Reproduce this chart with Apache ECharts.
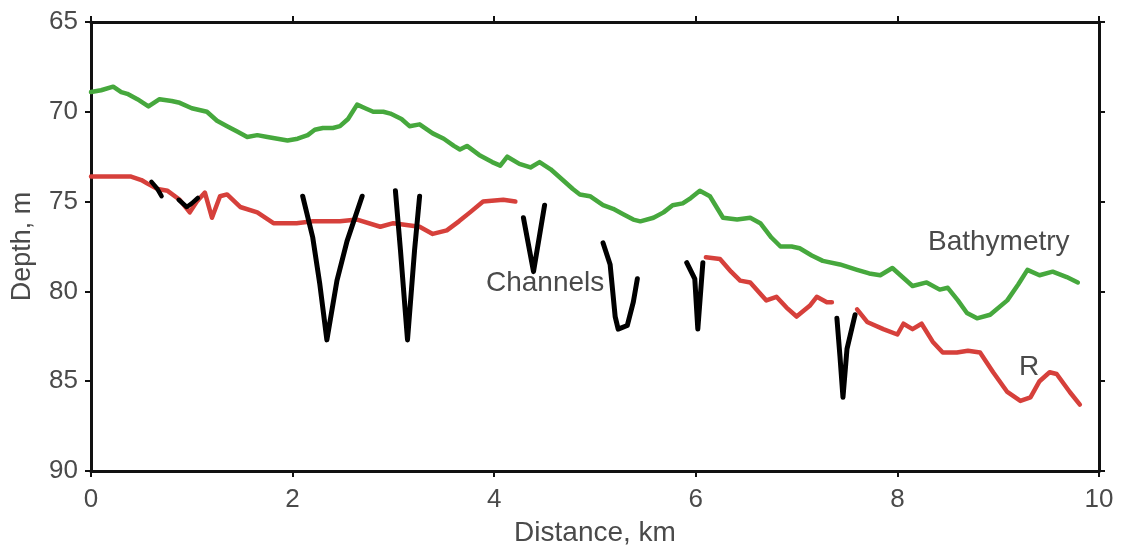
<!DOCTYPE html>
<html>
<head>
<meta charset="utf-8">
<script src="https://cdn.jsdelivr.net/npm/echarts@6/dist/echarts.min.js"></script>
<style>html,body{margin:0;padding:0;background:#fff;}#c{width:1122px;height:546px;}</style>
</head>
<body>
<div id="c"></div>
<script>
// Distance (km), Depth (m)
const xTicks = [0, 2, 4, 6, 8, 10];
const yTicks = [65, 70, 75, 80, 85, 90];

const bathymetry = [[0,68.9],[0.1,68.8],[0.22,68.6],[0.3,68.9],[0.36,69.0],[0.46,69.3],[0.57,69.7],[0.68,69.3],[0.8,69.4],[0.88,69.5],[1.0,69.8],[1.15,70.0],[1.25,70.5],[1.35,70.8],[1.45,71.1],[1.55,71.4],[1.65,71.3],[1.75,71.4],[1.85,71.5],[1.95,71.6],[2.05,71.5],[2.15,71.3],[2.22,71.0],[2.30,70.9],[2.40,70.9],[2.47,70.8],[2.55,70.4],[2.64,69.6],[2.72,69.8],[2.8,70.0],[2.9,70.0],[2.97,70.1],[3.08,70.4],[3.16,70.8],[3.26,70.7],[3.39,71.2],[3.5,71.5],[3.6,71.9],[3.66,72.1],[3.73,71.9],[3.85,72.4],[3.98,72.8],[4.06,73.0],[4.13,72.5],[4.25,72.9],[4.36,73.1],[4.45,72.8],[4.56,73.2],[4.68,73.8],[4.78,74.3],[4.85,74.6],[4.95,74.7],[5.08,75.2],[5.18,75.4],[5.28,75.7],[5.38,76.0],[5.45,76.1],[5.58,75.9],[5.68,75.6],[5.77,75.2],[5.87,75.1],[5.95,74.8],[6.04,74.4],[6.14,74.7],[6.27,75.9],[6.41,76.0],[6.54,75.9],[6.64,76.2],[6.75,77.0],[6.84,77.5],[6.95,77.5],[7.03,77.6],[7.15,78.0],[7.26,78.3],[7.43,78.5],[7.60,78.8],[7.72,79.0],[7.83,79.1],[7.95,78.7],[8.05,79.2],[8.15,79.7],[8.29,79.5],[8.42,79.9],[8.50,79.8],[8.60,80.5],[8.69,81.2],[8.79,81.5],[8.92,81.3],[9.09,80.5],[9.2,79.6],[9.29,78.8],[9.41,79.1],[9.54,78.9],[9.68,79.2],[9.79,79.5]];

const reflectorA = [[0,73.6],[0.2,73.6],[0.39,73.6],[0.5,73.8],[0.56,74.0],[0.66,74.3],[0.76,74.4],[0.88,74.9],[0.98,75.6],[1.05,75.0],[1.13,74.5],[1.20,75.9],[1.28,74.7],[1.35,74.6],[1.48,75.3],[1.65,75.6],[1.81,76.2],[2.04,76.2],[2.20,76.1],[2.47,76.1],[2.64,76.0],[2.87,76.4],[3.0,76.2],[3.26,76.4],[3.39,76.8],[3.53,76.6],[3.65,76.1],[3.76,75.6],[3.89,75.0],[4.09,74.9],[4.21,75.0]];
const reflectorB = [[6.10,78.1],[6.24,78.2],[6.35,78.9],[6.44,79.4],[6.54,79.5],[6.70,80.5],[6.80,80.3],[6.90,80.9],[7.00,81.4],[7.13,80.8],[7.20,80.3],[7.30,80.6],[7.35,80.6]];
const reflectorC = [[7.60,81.0],[7.70,81.7],[7.86,82.1],[8.00,82.4],[8.06,81.8],[8.15,82.1],[8.24,81.8],[8.35,82.8],[8.45,83.4],[8.59,83.4],[8.70,83.3],[8.82,83.4],[8.95,84.5],[9.09,85.6],[9.22,86.1],[9.32,85.9],[9.41,85.0],[9.51,84.5],[9.58,84.6],[9.71,85.6],[9.81,86.3]];

const channelBits1 = [[0.60,73.9],[0.66,74.3],[0.70,74.7]];
const channelBits2 = [[0.87,74.9],[0.95,75.3],[1.0,75.1],[1.06,74.8]];
const channel1 = [[2.10,74.7],[2.20,77.0],[2.27,79.6],[2.34,82.7],[2.44,79.4],[2.54,77.2],[2.69,74.7]];
const channel2 = [[3.02,74.4],[3.07,77.7],[3.14,82.7],[3.21,77.7],[3.26,74.7]];
const channel3 = [[4.29,75.9],[4.39,78.9],[4.50,75.2]];
const channel4 = [[5.08,77.3],[5.15,78.5],[5.20,81.4],[5.23,82.1],[5.32,81.9],[5.38,80.6],[5.42,79.3]];
const channel5 = [[5.91,78.4],[5.99,79.3],[6.02,82.1],[6.07,78.4]];
const channel6 = [[7.40,81.5],[7.43,83.6],[7.46,85.9],[7.50,83.2],[7.58,81.3]];

const annotations = [
  {text: 'Bathymetry', x: 928, y: 243},
  {text: 'Channels', x: 486, y: 284},
  {text: 'R', x: 1019, y: 368}
];

const textColor = '#4a4a4a';
const font = 'Liberation Sans, Arial, sans-serif';

function lineSeries(data, color, width) {
  return {
    type: 'line', data: data, showSymbol: false, symbol: 'none',
    smooth: false, animation: false, silent: true,
    lineStyle: {color: color, width: width, cap: 'round', join: 'round'}
  };
}

const series = [
  lineSeries(bathymetry, '#46a83d', 4.5),
  lineSeries(reflectorA, '#d6403b', 4.5),
  lineSeries(reflectorB, '#d6403b', 4.5),
  lineSeries(reflectorC, '#d6403b', 4.5),
  lineSeries(channelBits1, '#000', 4.5),
  lineSeries(channelBits2, '#000', 4.5),
  lineSeries(channel1, '#000', 5),
  lineSeries(channel2, '#000', 5),
  lineSeries(channel3, '#000', 5),
  lineSeries(channel4, '#000', 5),
  lineSeries(channel5, '#000', 5),
  lineSeries(channel6, '#000', 5)
];

const axisLine = {show: true, onZero: false, lineStyle: {color: '#111', width: 3}};
const axisTick = {show: true, inside: false, length: 6, lineStyle: {color: '#111', width: 2}};

const chart = echarts.init(document.getElementById('c'), null, {renderer: 'canvas'});
chart.setOption({
  backgroundColor: '#fff',
  animation: false,
  grid: {left: 91, right: 23, top: 22, bottom: 75, containLabel: false, outerBoundsMode: 'none'},
  xAxis: [
    {
      type: 'value', position: 'bottom', min: xTicks[0], max: xTicks[xTicks.length-1], interval: 2,
      name: 'Distance, km', nameLocation: 'middle', nameGap: 48,
      nameTextStyle: {color: textColor, fontSize: 28, fontFamily: font},
      axisLine: axisLine, axisTick: axisTick, splitLine: {show: false},
      axisLabel: {color: textColor, fontSize: 26, fontFamily: font, margin: 16}
    },
    {
      type: 'value', position: 'top', min: xTicks[0], max: xTicks[xTicks.length-1], interval: 2,
      axisLine: axisLine, axisTick: axisTick, splitLine: {show: false},
      axisLabel: {show: false}
    }
  ],
  yAxis: [
    {
      type: 'value', position: 'left', inverse: true, min: yTicks[0], max: yTicks[yTicks.length-1], interval: 5,
      name: 'Depth, m', nameLocation: 'middle', nameGap: 55, nameRotate: 90,
      nameTextStyle: {color: textColor, fontSize: 27, fontFamily: font},
      axisLine: axisLine, axisTick: axisTick, splitLine: {show: false},
      axisLabel: {color: textColor, fontSize: 26, fontFamily: font, margin: 13}
    },
    {
      type: 'value', position: 'right', inverse: true, min: yTicks[0], max: yTicks[yTicks.length-1], interval: 5,
      axisLine: axisLine, axisTick: axisTick, splitLine: {show: false},
      axisLabel: {show: false}
    }
  ],
  graphic: annotations.map(a => ({
    type: 'text', left: a.x, top: a.y - 15, silent: true,
    style: {text: a.text, fill: textColor, fontSize: 28, fontFamily: font}
  })),
  series: series
});
</script>
</body>
</html>
